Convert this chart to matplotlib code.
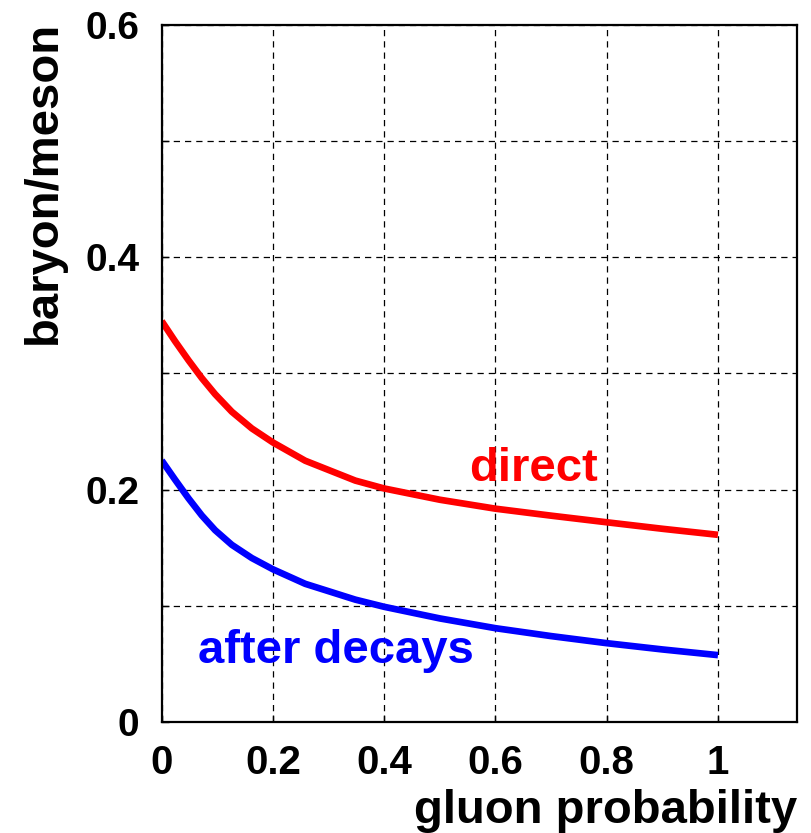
import matplotlib
matplotlib.use("Agg")
import matplotlib.pyplot as plt

# gluon probability vs baryon/meson ratio
gluon_prob = [0, 0.024, 0.048, 0.072, 0.096, 0.126, 0.162, 0.2, 0.258, 0.348,
              0.4, 0.5, 0.6, 0.7, 0.8, 0.9, 1.0]
direct = [0.345, 0.3277, 0.3114, 0.296, 0.2821, 0.267, 0.2526, 0.2405, 0.2248, 0.2077,
          0.2009, 0.1912, 0.1835, 0.1775, 0.1718, 0.1662, 0.161]
after_decays = [0.225, 0.2085, 0.1925, 0.1777, 0.165, 0.1524, 0.141, 0.1313, 0.1188, 0.1052,
                0.099, 0.089, 0.0806, 0.0738, 0.0677, 0.0623, 0.0574]

xticks = [0, 0.2, 0.4, 0.6, 0.8, 1.0]
xticklabels = ["0", "0.2", "0.4", "0.6", "0.8", "1"]
yticks = [0, 0.2, 0.4, 0.6]
yticklabels = ["0", "0.2", "0.4", "0.6"]

plt.rcParams["font.family"] = ["Liberation Sans", "DejaVu Sans"]
plt.rcParams["font.weight"] = "bold"

fig = plt.figure(figsize=(8.11, 8.33), dpi=100)
ax = fig.add_axes([0.1994, 0.1335, 0.7833, 0.8365])

ax.plot(gluon_prob, direct, color="#ff0000", lw=4.8, solid_capstyle="butt", solid_joinstyle="round")
ax.plot(gluon_prob, after_decays, color="#0000ff", lw=4.8, solid_capstyle="butt", solid_joinstyle="round")

ax.set_xlim(0, 1.142)
ax.set_ylim(0, 0.6)

ax.set_xticks(xticks)
ax.set_xticklabels(xticklabels, fontsize=29, fontweight="bold")
ax.set_yticks(yticks)
ax.set_yticklabels(yticklabels, fontsize=28, fontweight="bold")
ax.set_yticks([0.1, 0.3, 0.5], minor=True)
ax.tick_params(axis="both", which="both", direction="in", length=5, width=1)
ax.tick_params(axis="x", pad=16)
ax.tick_params(axis="y", pad=16)

ax.grid(True, which="both", color="black", linestyle=(0, (5, 4)), linewidth=0.9)
ax.grid(False, axis="x", which="minor")
for s in ax.spines.values():
    s.set_linewidth(1.6)

ax.text(0.669, 0.207, "direct", color="#ff0000", fontsize=34, fontweight="bold",
        ha="center", va="baseline")
ax.text(0.314, 0.051, "after decays", color="#0000ff", fontsize=34, fontweight="bold",
        ha="center", va="baseline")

fig.text(0.9827, 0.012, "gluon probability", fontsize=34, fontweight="bold", ha="right", va="baseline")
fig.text(0.027, 0.975, "baryon/meson", fontsize=34, fontweight="bold", rotation=90, ha="left", va="top")

fig.savefig("out.png", dpi=100)
